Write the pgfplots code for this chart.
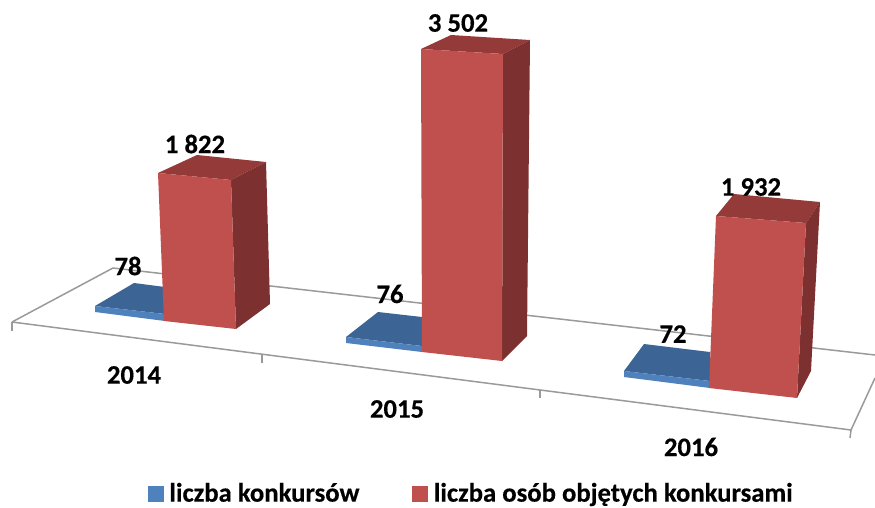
\documentclass[border=0pt]{standalone}
\usepackage{pgfplots}
\pgfplotsset{compat=1.18}
\usepackage{fontspec}
\setmainfont{Carlito}[BoldFeatures={FakeBold=0.4}]
\definecolor{redF}{HTML}{C0504D}
\definecolor{redT}{HTML}{943A39}
\definecolor{redS}{HTML}{7C3130}
\definecolor{bluF}{HTML}{4F81BD}
\definecolor{bluT}{HTML}{3C6494}
\definecolor{axc}{HTML}{9A9A9A}
\begin{document}
\begin{tikzpicture}
\path[use as bounding box] (0,0) rectangle (875pt,507pt);
\begin{axis}[
  scale only axis, width=875pt, height=507pt,
  xmin=0, xmax=875, ymin=0, ymax=507, y dir=reverse,
  hide axis, clip=true,
  legend columns=2,
  legend cell align=left,
  legend style={at={(axis cs:148,493)}, anchor=west, draw=none, fill=none,
    inner sep=0pt, outer sep=0pt,
    font=\fontsize{26.7}{28}\selectfont\bfseries,
    nodes={inner sep=0pt, outer sep=0pt},
    /tikz/every even column/.append style={column sep=53pt}},
  legend image code/.code={\fill[#1] (0pt,-8.5pt) rectangle (15pt,6.5pt); \path (21pt,0pt);},
  value/.style={draw=none, mark=none, forget plot, point meta=explicit symbolic,
    nodes near coords, nodes near coords style={anchor=center, inner sep=0pt,
      font=\fontsize{26.7}{28}\selectfont\bfseries, text=black}},
  face/.style={draw=none, fill=#1, forget plot},
  floor/.style={draw=axc, line width=1.5pt, forget plot},
]
\addlegendimage{bluF}\addlegendentry{liczba konkursów}
\addlegendimage{redF}\addlegendentry{liczba osób objętych konkursami}
% floor
\addplot[floor] coordinates {(12,322)(113,268)(875,355)};
\addplot[floor] coordinates {(12,322)(851,430)(875,378)};
\addplot[floor] coordinates {(12,322)(12,331)};
\addplot[floor] coordinates {(262,355)(262,363)};
\addplot[floor] coordinates {(540,390)(540,398)};
\addplot[floor] coordinates {(851,430)(850,438)};
% blue 2014
\addplot[face=bluT] coordinates {(134,283)(165,287)(165,314)(95,306)} -- cycle;
\addplot[face=bluF] coordinates {(95,306)(165,314)(165,321)(95,312)} -- cycle;
% red 2014
\addplot[face=redT] coordinates {(158,173)(197,155)(266,162)(231,180)} -- cycle;
\addplot[face=redS] coordinates {(231,180)(266,162)(270,304)(236,329)} -- cycle;
\addplot[face=redF] coordinates {(158,173)(231,180)(236,329)(164,321)} -- cycle;
% blue 2015
\addplot[face=bluT] coordinates {(378,312)(422,317)(422,346)(346,337)} -- cycle;
\addplot[face=bluF] coordinates {(346,337)(422,346)(422,352)(346,343)} -- cycle;
% red 2015
\addplot[face=redT] coordinates {(421,49)(451,35)(530,40)(503,54)} -- cycle;
\addplot[face=redS] coordinates {(503,54)(530,40)(527,336)(502,361)} -- cycle;
\addplot[face=redF] coordinates {(421,49)(503,54)(502,361)(422,352)} -- cycle;
% blue 2016
\addplot[face=bluT] coordinates {(644,344)(710,352)(710,381)(624,371)} -- cycle;
\addplot[face=bluF] coordinates {(624,371)(710,381)(710,388)(624,377)} -- cycle;
% red 2016
\addplot[face=redT] coordinates {(716,216)(734,194)(820,202)(806,223)} -- cycle;
\addplot[face=redS] coordinates {(806,223)(820,202)(811,371)(797,398)} -- cycle;
\addplot[face=redF] coordinates {(716,216)(806,223)(797,398)(709,388)} -- cycle;
% labels
\addplot[value] coordinates {(128,266)[78] (195,144)[1 822] (390,294)[76] (458,23)[3 502] (673,334)[72] (751,187)[1 932]
  (134,375)[2014] (397,409)[2015] (691,447)[2016]};
\end{axis}
\end{tikzpicture}
\end{document}
